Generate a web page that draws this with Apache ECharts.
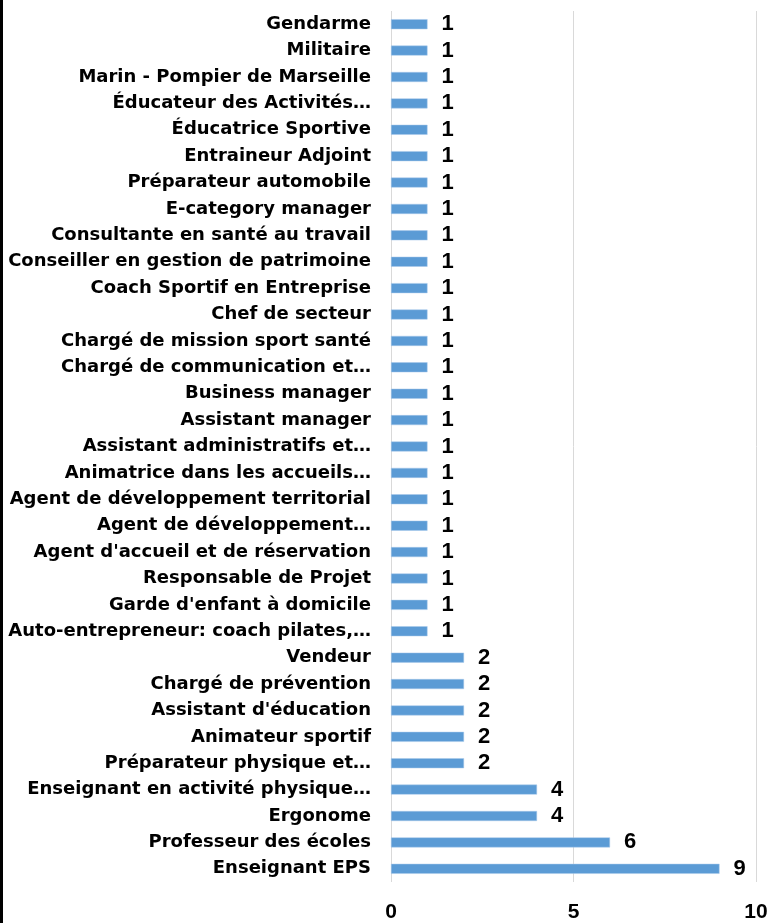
<!DOCTYPE html>
<html>

<head>
	<meta charset="utf-8">
	<title>metiers</title>
	<script src="https://cdn.jsdelivr.net/npm/echarts@6/dist/echarts.min.js"></script>
	<style>
		html, body { margin: 0; padding: 0; background: #fff; }
		#chart { width: 774px; height: 923px; }
	</style>
</head>

<body>
	<div id="chart"></div>
	<script>
		// bottom to top, as the category axis draws them
		var metiers = [
			"Enseignant EPS",
			"Professeur des écoles",
			"Ergonome",
			"Enseignant en activité physique…",
			"Préparateur physique et…",
			"Animateur sportif",
			"Assistant d'éducation",
			"Chargé de prévention",
			"Vendeur",
			"Auto-entrepreneur: coach pilates,…",
			"Garde d'enfant à domicile",
			"Responsable de Projet",
			"Agent d'accueil et de réservation",
			"Agent de développement…",
			"Agent de développement territorial",
			"Animatrice dans les accueils…",
			"Assistant administratifs et…",
			"Assistant manager",
			"Business manager",
			"Chargé de communication et…",
			"Chargé de mission sport santé",
			"Chef de secteur",
			"Coach Sportif en Entreprise",
			"Conseiller en gestion de patrimoine",
			"Consultante en santé au travail",
			"E-category manager",
			"Préparateur automobile",
			"Entraineur Adjoint",
			"Éducatrice Sportive",
			"Éducateur des Activités…",
			"Marin - Pompier de Marseille",
			"Militaire",
			"Gendarme"
		];
		var effectifs = [9, 6, 4, 4, 2, 2, 2, 2, 2,
			1, 1, 1, 1, 1, 1, 1, 1, 1, 1, 1, 1, 1, 1, 1, 1, 1, 1, 1, 1, 1, 1, 1, 1];
		var xTicks = [0, 5, 10];

		var chart = echarts.init(document.getElementById('chart'));
		var arial = '"Liberation Sans", Arial, sans-serif';

		var option = {
			animation: false,
			grid: {
				left: 391,
				right: 18,
				top: 11,
				height: 875
			},
			graphic: [{
				type: 'rect',
				shape: { x: 0, y: 0, width: 3, height: 923 },
				style: { fill: '#000' }
			}],
			xAxis: {
				type: 'value',
				min: xTicks[0],
				max: xTicks[xTicks.length - 1],
				interval: 5,
				axisLine: { show: false },
				axisTick: { show: false },
				splitLine: { lineStyle: { color: '#d9d9d9', width: 1 } },
				axisLabel: {
					margin: 20,
					color: '#000',
					fontWeight: 'bold',
					fontSize: 21,
					fontFamily: arial
				}
			},
			yAxis: {
				type: 'category',
				data: metiers,
				axisLine: { show: false },
				axisTick: { show: false },
				axisLabel: {
					margin: 20,
					padding: [4, 0, 0, 0],
					color: '#000',
					fontWeight: 'bold',
					fontSize: 18,
					fontFamily: '"DejaVu Sans", sans-serif'
				}
			},
			series: [{
				type: 'bar',
				data: effectifs,
				barWidth: 10,
				itemStyle: {
					color: '#5b9bd5',
					borderColor: '#a9c8ea',
					borderWidth: 0.5
				},
				label: {
					show: true,
					position: 'right',
					distance: 14,
					color: '#000',
					fontWeight: 'bold',
					fontSize: 22,
					fontFamily: arial
				}
			}]
		};
		chart.setOption(option);
	</script>
</body>

</html>
